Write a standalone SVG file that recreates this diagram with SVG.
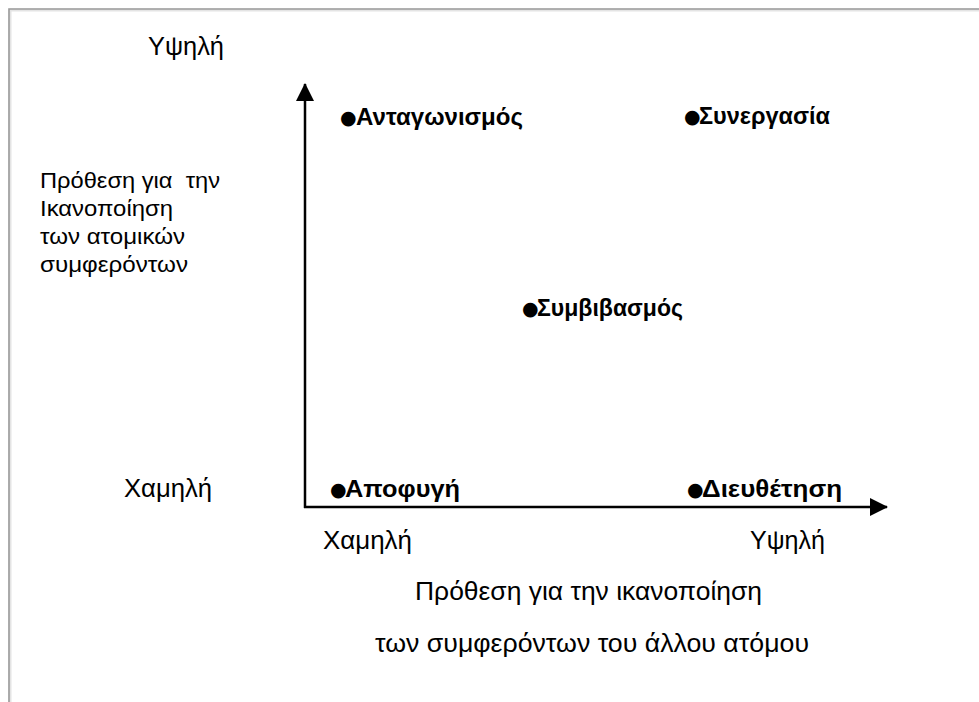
<svg xmlns="http://www.w3.org/2000/svg" width="979" height="702" viewBox="0 0 979 702">
<defs>
<style>
.lab{font-family:"Liberation Sans",Arial,sans-serif;font-size:25px;fill:#000}
.pt{font-family:"Liberation Sans",Arial,sans-serif;font-size:24px;font-weight:bold;fill:#000}
.bul{font-family:"DejaVu Sans",sans-serif;font-size:19px;font-weight:normal}
.blk{font-family:"Liberation Sans",Arial,sans-serif;font-size:22px;fill:#000}
.ax{stroke:#000;stroke-width:2.5;fill:none}
</style>
<marker id="ah" viewBox="0 0 18 18" refX="17" refY="9" markerWidth="18" markerHeight="18" markerUnits="userSpaceOnUse" orient="auto">
<path d="M0,0 L18,9 L0,18 z" fill="#000"/>
</marker>
</defs>
<rect width="979" height="702" fill="#fff"/>
<path d="M10,702 V10 H979" fill="none" stroke="#e4e4e4" stroke-width="3"/>
<path d="M9,702 V9 H979" fill="none" stroke="#9a9a9a" stroke-width="1.6"/>
<g id="connectors">
<path class="ax" d="M305,508 V84" marker-end="url(#ah)"/>
<path class="ax" d="M304,507 H887" marker-end="url(#ah)"/>
</g>
<g id="y-high"><text class="lab" x="148" y="55" textLength="76" lengthAdjust="spacingAndGlyphs">Υψηλή</text></g>
<g id="y-title">
<text class="blk" x="40" y="188" xml:space="preserve" textLength="180" lengthAdjust="spacingAndGlyphs">Πρόθεση για  την</text>
<text class="blk" x="40" y="216" textLength="133" lengthAdjust="spacingAndGlyphs">Ικανοποίηση</text>
<text class="blk" x="40" y="244" textLength="145" lengthAdjust="spacingAndGlyphs">των ατομικών</text>
<text class="blk" x="40" y="272" textLength="148" lengthAdjust="spacingAndGlyphs">συμφερόντων</text>
</g>
<g id="y-low"><text class="lab" x="124" y="497" textLength="88" lengthAdjust="spacingAndGlyphs">Χαμηλή</text></g>
<g id="x-low"><text class="lab" x="323" y="549" textLength="89" lengthAdjust="spacingAndGlyphs">Χαμηλή</text></g>
<g id="x-high"><text class="lab" x="750" y="549" textLength="75" lengthAdjust="spacingAndGlyphs">Υψηλή</text></g>
<g id="x-title">
<text class="lab" x="415" y="600" textLength="347" lengthAdjust="spacingAndGlyphs">Πρόθεση για την ικανοποίηση</text>
<text class="lab" x="375" y="652" textLength="434" lengthAdjust="spacingAndGlyphs">των συμφερόντων του άλλου ατόμου</text>
</g>
<g id="antagonismos"><text class="pt" y="125"><tspan class="bul" x="340" dy="-1">●</tspan><tspan x="356" dy="1" textLength="167" lengthAdjust="spacingAndGlyphs">Ανταγωνισμός</tspan></text></g>
<g id="synergasia"><text class="pt" y="124"><tspan class="bul" x="684" dy="-1">●</tspan><tspan x="699" dy="1" textLength="131" lengthAdjust="spacingAndGlyphs">Συνεργασία</tspan></text></g>
<g id="symvivasmos"><text class="pt" y="316"><tspan class="bul" x="522" dy="-1">●</tspan><tspan x="537" dy="1" textLength="146" lengthAdjust="spacingAndGlyphs">Συμβιβασμός</tspan></text></g>
<g id="apofygi"><text class="pt" y="497"><tspan class="bul" x="330" dy="-1">●</tspan><tspan x="345" dy="1" textLength="115" lengthAdjust="spacingAndGlyphs">Αποφυγή</tspan></text></g>
<g id="dieuthetisi"><text class="pt" y="497"><tspan class="bul" x="687" dy="-1">●</tspan><tspan x="702" dy="1" textLength="140" lengthAdjust="spacingAndGlyphs">Διευθέτηση</tspan></text></g>
</svg>
